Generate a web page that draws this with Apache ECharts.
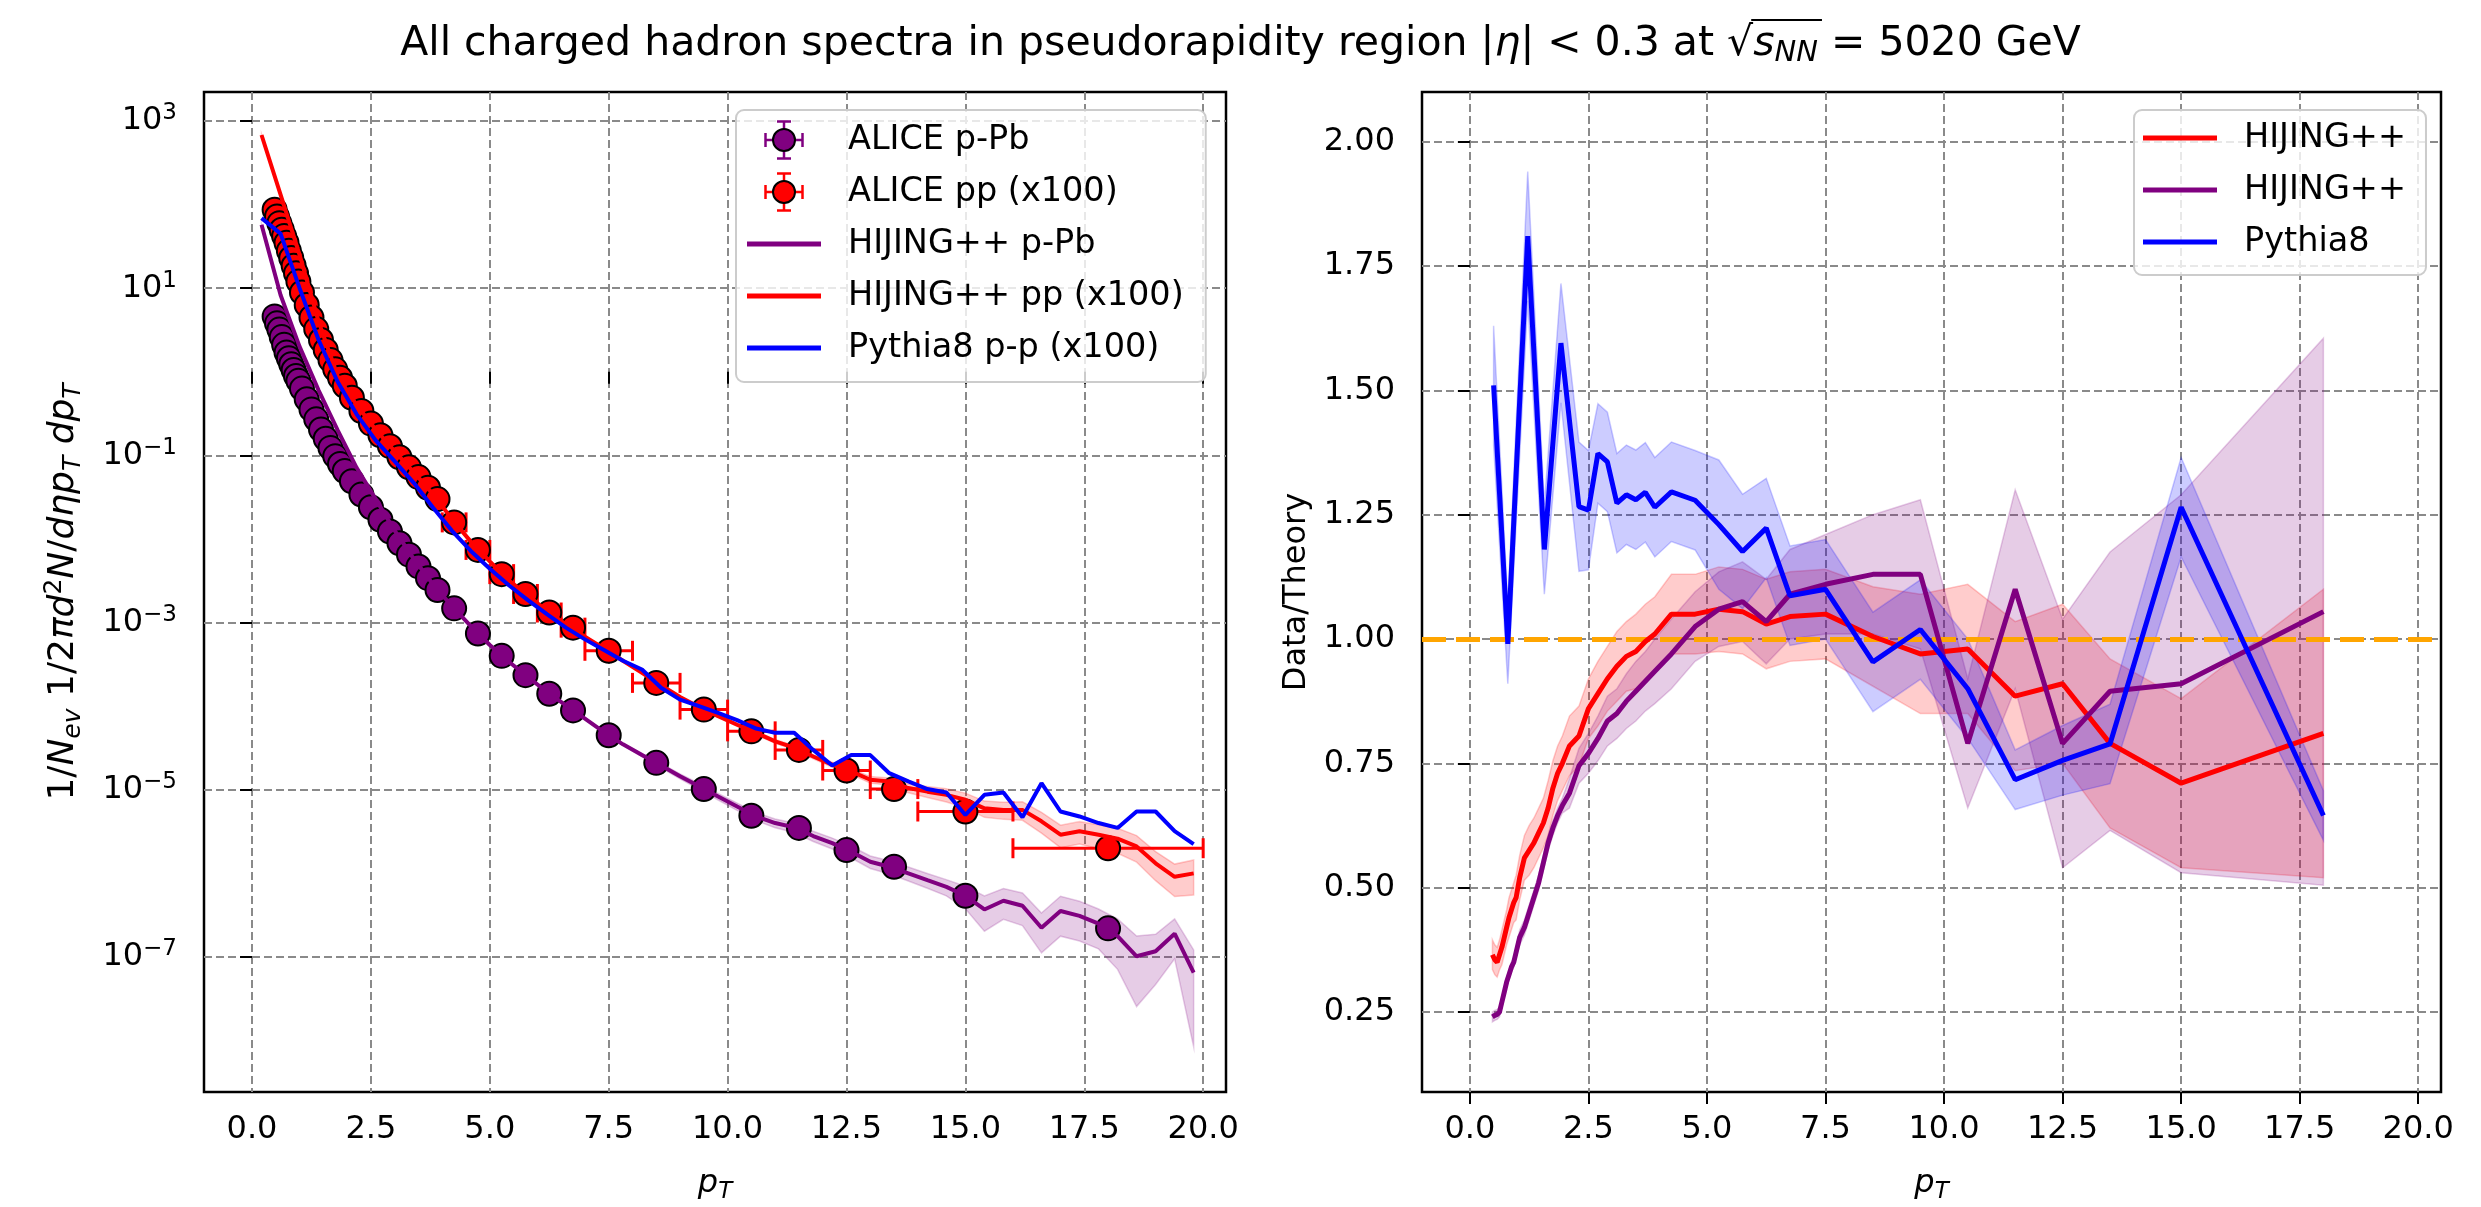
<!DOCTYPE html>
<html>
<head>
<meta charset="utf-8">
<script src="https://cdn.jsdelivr.net/npm/echarts@6/dist/echarts.min.js"></script>
<style>
  html, body { margin: 0; padding: 0; background: #fff; }
  #main { width: 2481px; height: 1207px; }
</style>
</head>
<body>
<div id="main"></div>
<script>
const FONT = 'DejaVu Sans';

// ALICE data points: bin centres and half widths (GeV)
const alicePt = [0.475, 0.525, 0.575, 0.625, 0.675, 0.725, 0.775, 0.825, 0.875, 0.925, 0.975,
  1.05, 1.15, 1.25, 1.35, 1.45, 1.55, 1.65, 1.75, 1.85, 1.95,
  2.1, 2.3, 2.5, 2.7, 2.9, 3.1, 3.3, 3.5, 3.7, 3.9,
  4.25, 4.75, 5.25, 5.75, 6.25, 6.75,
  7.5, 8.5, 9.5, 10.5, 11.5, 12.5, 13.5, 15, 18];
const alicePtErr = [0.025, 0.025, 0.025, 0.025, 0.025, 0.025, 0.025, 0.025, 0.025, 0.025, 0.025,
  0.05, 0.05, 0.05, 0.05, 0.05, 0.05, 0.05, 0.05, 0.05, 0.05,
  0.1, 0.1, 0.1, 0.1, 0.1, 0.1, 0.1, 0.1, 0.1, 0.1,
  0.25, 0.25, 0.25, 0.25, 0.25, 0.25,
  0.5, 0.5, 0.5, 0.5, 0.5, 0.5, 0.5, 1, 2];
const alicePPb = [4.6, 3.8, 3.2, 2.6, 2.1, 1.7, 1.45, 1.23, 1.05, 0.89, 0.78,
  0.63, 0.47, 0.355, 0.27, 0.204, 0.158, 0.123, 0.098, 0.079, 0.065,
  0.049, 0.034, 0.024, 0.017, 0.0123, 0.0089, 0.0065, 0.0047, 0.0034, 0.00245,
  1.48e-3, 7.4e-4, 4.0e-4, 2.35e-4, 1.41e-4, 8.9e-5,
  4.5e-5, 2.1e-5, 1.02e-5, 4.9e-6, 3.5e-6, 1.9e-6, 1.2e-6, 5.4e-7, 2.2e-7];
const alicePP = [87, 72, 60, 50, 42, 35, 28, 23, 18.6, 15.1, 12.0,
  8.9, 6.3, 4.47, 3.24, 2.40, 1.82, 1.38, 1.07, 0.85, 0.68,
  0.49, 0.34, 0.24, 0.174, 0.129, 0.095, 0.072, 0.055, 0.041, 0.030,
  0.0158, 0.0074, 0.0038, 0.0022, 0.00132, 8.7e-4,
  4.6e-4, 1.9e-4, 9.1e-5, 5.0e-5, 3.0e-5, 1.7e-5, 1.02e-5, 5.5e-6, 2.0e-6];
const alicePPRelErr = [0.04, 0.04, 0.04, 0.04, 0.04, 0.04, 0.04, 0.04, 0.04, 0.04, 0.04,
  0.04, 0.04, 0.04, 0.04, 0.04, 0.04, 0.04, 0.04, 0.04, 0.04,
  0.04, 0.04, 0.04, 0.04, 0.04, 0.04, 0.04, 0.04, 0.04, 0.04,
  0.05, 0.05, 0.05, 0.05, 0.05, 0.05,
  0.06, 0.06, 0.07, 0.07, 0.08, 0.09, 0.1, 0.12, 0.18];

// model curves (0.4 GeV bins)
const modelPt = [0.2, 0.6, 1.0, 1.4, 1.8, 2.2, 2.6, 3.0, 3.4, 3.8, 4.2, 4.6, 5.0, 5.4, 5.8, 6.2, 6.6,
  7.0, 7.4, 7.8, 8.2, 8.6, 9.0, 9.4, 9.8, 10.2, 10.6, 11.0, 11.4, 11.8, 12.2, 12.6, 13.0,
  13.4, 13.8, 14.2, 14.6, 15.0, 15.4, 15.8, 16.2, 16.6, 17.0, 17.4, 17.8, 18.2, 18.6, 19.0, 19.4, 19.8];
const hijingPPb = [57.5, 8.3, 2.0, 0.60, 0.20, 0.071, 0.030, 0.0126, 0.0058, 0.0029, 1.58e-3, 9.1e-4,
  5.4e-4, 3.4e-4, 2.24e-4, 1.48e-4, 1.02e-4, 7.1e-5, 4.9e-5, 3.5e-5, 2.6e-5, 1.95e-5, 1.45e-5,
  1.10e-5, 8.3e-6, 6.3e-6, 4.8e-6, 4.0e-6, 3.55e-6, 2.8e-6, 2.3e-6, 1.82e-6, 1.38e-6, 1.2e-6,
  1.0e-6, 8.3e-7, 6.9e-7, 5.4e-7, 3.7e-7, 4.7e-7, 4.1e-7, 2.24e-7, 3.55e-7, 3.1e-7, 2.5e-7,
  1.78e-7, 1.02e-7, 1.17e-7, 1.9e-7, 6.5e-8];
const hijingPPbRelErr = [0.02, 0.02, 0.02, 0.02, 0.02, 0.02, 0.02, 0.02, 0.02, 0.02, 0.02, 0.02,
  0.02, 0.02, 0.02, 0.02, 0.02, 0.02, 0.02, 0.02, 0.05, 0.06, 0.07, 0.08, 0.09, 0.1, 0.11, 0.12,
  0.13, 0.14, 0.15, 0.16, 0.17, 0.18, 0.19, 0.2, 0.22, 0.3, 0.45, 0.4, 0.42, 0.5, 0.5, 0.5, 0.5,
  0.6, 0.75, 0.6, 0.5, 0.87];
const hijingPP = [680, 132, 25.1, 3.98, 0.89, 0.40, 0.204, 0.112, 0.063, 0.0347, 0.0174, 0.0093,
  0.0054, 0.0032, 0.0021, 1.38e-3, 9.5e-4, 6.8e-4, 4.9e-4, 3.5e-4, 2.5e-4, 1.78e-4, 1.29e-4,
  9.8e-5, 7.6e-5, 6.0e-5, 4.8e-5, 3.8e-5, 3.2e-5, 2.5e-5, 2.0e-5, 1.66e-5, 1.32e-5, 1.26e-5,
  1.05e-5, 9.5e-6, 8.7e-6, 7.6e-6, 6.0e-6, 5.75e-6, 5.75e-6, 4.2e-6, 2.9e-6, 3.2e-6, 2.9e-6,
  2.6e-6, 2.1e-6, 1.32e-6, 9.1e-7, 1.0e-6];
const hijingPPRelErr = [0.02, 0.02, 0.02, 0.02, 0.02, 0.02, 0.02, 0.02, 0.02, 0.02, 0.02, 0.02,
  0.02, 0.02, 0.02, 0.02, 0.02, 0.02, 0.02, 0.02, 0.02, 0.02, 0.02, 0.02, 0.02, 0.04, 0.05, 0.05,
  0.06, 0.06, 0.07, 0.08, 0.09, 0.1, 0.12, 0.15, 0.18, 0.2, 0.22, 0.23, 0.25, 0.28, 0.3, 0.3,
  0.32, 0.33, 0.35, 0.38, 0.42, 0.45];
const pythiaPP = [69, 45, 10.0, 2.4, 0.76, 0.31, 0.151, 0.085, 0.047, 0.024, 0.0126, 0.0072,
  0.0044, 0.0028, 0.00186, 1.26e-3, 8.7e-4, 6.3e-4, 4.7e-4, 3.5e-4, 2.75e-4, 1.66e-4, 1.2e-4,
  1.0e-4, 8.3e-5, 6.8e-5, 5.4e-5, 4.8e-5, 4.8e-5, 3.0e-5, 1.95e-5, 2.6e-5, 2.6e-5, 1.58e-5,
  1.26e-5, 1.02e-5, 9.3e-6, 5.0e-6, 8.7e-6, 9.3e-6, 4.7e-6, 1.2e-5, 5.5e-6, 4.8e-6, 4.0e-6,
  3.5e-6, 5.5e-6, 5.5e-6, 3.2e-6, 2.24e-6];

// Data/Theory ratios
const ratioHijingPP = [0.365, 0.355, 0.35, 0.365, 0.38, 0.40, 0.42, 0.44, 0.455, 0.47, 0.48,
  0.52, 0.56, 0.575, 0.59, 0.61, 0.63, 0.66, 0.70, 0.73, 0.75,
  0.785, 0.805, 0.86, 0.89, 0.92, 0.945, 0.965, 0.975, 0.995, 1.01,
  1.05, 1.05, 1.06, 1.055, 1.03, 1.045,
  1.05, 1.005, 0.97, 0.98, 0.885, 0.91, 0.79, 0.71, 0.81];
const ratioHijingPPErr = [0.03, 0.03, 0.03, 0.03, 0.035, 0.035, 0.035, 0.04, 0.04, 0.04, 0.045,
  0.045, 0.045, 0.05, 0.05, 0.05, 0.05, 0.055, 0.055, 0.055, 0.055,
  0.06, 0.06, 0.06, 0.065, 0.065, 0.07, 0.07, 0.075, 0.075, 0.075,
  0.08, 0.08, 0.085, 0.085, 0.09, 0.09,
  0.09, 0.1, 0.12, 0.13, 0.15, 0.16, 0.17, 0.17, 0.29];
const ratioHijingPPb = [0.24, 0.243, 0.245, 0.25, 0.27, 0.29, 0.31, 0.325, 0.34, 0.35, 0.37,
  0.40, 0.42, 0.45, 0.48, 0.51, 0.55, 0.59, 0.62, 0.645, 0.665,
  0.69, 0.745, 0.77, 0.80, 0.835, 0.85, 0.875, 0.895, 0.915, 0.935,
  0.97, 1.025, 1.06, 1.075, 1.035, 1.09,
  1.11, 1.13, 1.13, 0.79, 1.10, 0.79, 0.895, 0.91, 1.055];
const ratioHijingPPbErr = [0.01, 0.01, 0.01, 0.01, 0.01, 0.01, 0.01, 0.01, 0.01, 0.01, 0.01,
  0.015, 0.015, 0.015, 0.015, 0.015, 0.015, 0.015, 0.015, 0.015, 0.015,
  0.03, 0.035, 0.04, 0.045, 0.05, 0.05, 0.055, 0.06, 0.06, 0.065,
  0.07, 0.07, 0.075, 0.08, 0.085, 0.09,
  0.1, 0.12, 0.15, 0.13, 0.2, 0.25, 0.28, 0.38, 0.55];
const ratioPythiaPt = [0.5, 0.8, 1.22, 1.57, 1.92, 2.3, 2.5, 2.7, 2.9, 3.1, 3.3, 3.5, 3.7, 3.9,
  4.25, 4.75, 5.25, 5.75, 6.25, 6.75, 7.5, 8.5, 9.5, 10.5, 11.5, 12.5, 13.5, 15, 18];
const ratioPythia = [1.51, 0.99, 1.81, 1.18, 1.595, 1.266, 1.259, 1.373, 1.356, 1.273, 1.29, 1.28,
  1.295, 1.265, 1.296, 1.279, 1.23, 1.176, 1.223, 1.087, 1.10, 0.954, 1.019, 0.90, 0.717, 0.756,
  0.789, 1.265, 0.645];
const ratioPythiaErr = [0.12, 0.08, 0.13, 0.09, 0.12, 0.13, 0.12, 0.1, 0.1, 0.1, 0.1, 0.1, 0.1,
  0.1, 0.1, 0.1, 0.13, 0.115, 0.1, 0.1, 0.1, 0.1, 0.1, 0.1, 0.06, 0.07, 0.08, 0.1, 0.05];

// tick positions
const xTicks = [0, 2.5, 5, 7.5, 10, 12.5, 15, 17.5, 20];
const specTicks = [-7, -5, -3, -1, 1, 3];   // decades on the spectrum axis
const ratioTicks = [0.25, 0.5, 0.75, 1.0, 1.25, 1.5, 1.75, 2.0];

const PURPLE = '#800080', RED = '#ff0000', BLUE = '#0000ff';

// helpers: the spectrum axis is drawn in log10 space
const lg = Math.log10;
const specPoints = (xs, vs) => xs.map((x, i) => [x, lg(vs[i])]);
const specBand = (xs, vs, rel) => xs.map((x, i) => [x, lg(vs[i] * (1 - rel[i])), lg(vs[i] * (1 + rel[i]))]);
const linPoints = (xs, vs) => xs.map((x, i) => [x, vs[i]]);
const linBand = (xs, vs, err) => xs.map((x, i) => [x, vs[i] - err[i], vs[i] + err[i]]);

function bandRender(color) {
  return function (params, api) {
    if (params.dataIndexInside !== 0) return null;
    const n = params.dataInsideLength;
    const upper = [], lower = [];
    for (let i = 0; i < n; i++) {
      upper.push(api.coord([api.value(0, i), api.value(2, i)]));
      lower.push(api.coord([api.value(0, i), api.value(1, i)]));
    }
    return {
      type: 'polygon',
      shape: { points: upper.concat(lower.reverse()) },
      style: { fill: color, stroke: color, lineWidth: 1.5 }
    };
  };
}

function errorBarRender(color) {
  return function (params, api) {
    const c = api.coord([api.value(0), api.value(1)]);
    const xl = api.coord([api.value(2), api.value(1)])[0];
    const xh = api.coord([api.value(3), api.value(1)])[0];
    const yl = api.coord([api.value(0), api.value(4)])[1];
    const yh = api.coord([api.value(0), api.value(5)])[1];
    const cap = 10;
    const st = { stroke: color, lineWidth: 3 };
    const ln = (x1, y1, x2, y2) => ({ type: 'line', shape: { x1, y1, x2, y2 }, style: st });
    return {
      type: 'group',
      children: [
        ln(xl, c[1], xh, c[1]), ln(xl, c[1] - cap, xl, c[1] + cap), ln(xh, c[1] - cap, xh, c[1] + cap),
        ln(c[0], yl, c[0], yh), ln(c[0] - cap, yl, c[0] + cap, yl), ln(c[0] - cap, yh, c[0] + cap, yh)
      ]
    };
  };
}

function errIcon(fill) {
  const svg = '<svg xmlns="http://www.w3.org/2000/svg" width="40" height="40" viewBox="0 0 40 40">' +
    '<g stroke="' + fill + '" stroke-width="2.5" fill="none">' +
    '<line x1="20" y1="1.5" x2="20" y2="38.5"/><line x1="13" y1="1.5" x2="27" y2="1.5"/><line x1="13" y1="38.5" x2="27" y2="38.5"/>' +
    '<line x1="1.5" y1="20" x2="38.5" y2="20"/><line x1="1.5" y1="13" x2="1.5" y2="27"/><line x1="38.5" y1="13" x2="38.5" y2="27"/>' +
    '</g><circle cx="20" cy="20" r="11" fill="' + fill + '" stroke="#000" stroke-width="2"/></svg>';
  return 'image://data:image/svg+xml;base64,' + btoa(svg);
}
const LINE_ICON = 'path://M0,0H74V5H0Z';

const mathRich = {
  n: { fontSize: 32, fontFamily: FONT, color: '#000', lineHeight: 40 },
  i: { fontSize: 32, fontFamily: FONT, color: '#000', fontStyle: 'italic', lineHeight: 40 },
  s: { fontSize: 23, fontFamily: FONT, color: '#000', fontStyle: 'italic', lineHeight: 22, verticalAlign: 'bottom' },
  e: { fontSize: 23, fontFamily: FONT, color: '#000', lineHeight: 22, verticalAlign: 'top' }
};
const yNameRich = {
  n: { fontSize: 36, fontFamily: FONT, color: '#000', lineHeight: 44 },
  i: { fontSize: 36, fontFamily: FONT, color: '#000', fontStyle: 'italic', lineHeight: 44 },
  s: { fontSize: 25, fontFamily: FONT, color: '#000', fontStyle: 'italic', lineHeight: 24, verticalAlign: 'bottom' },
  e: { fontSize: 25, fontFamily: FONT, color: '#000', lineHeight: 24, verticalAlign: 'top' }
};

// title pieces; the bar over s_NN is placed from measured text widths
const titleParts = [
  ['t', 'All charged hadron spectra in pseudorapidity region |'], ['i', 'η'], ['t', '| < 0.3 at √'],
  ['i', 's'], ['s', 'NN'], ['t', ' = 5020 GeV']
];
const titleFont = { t: [41, ''], i: [41, 'italic '], s: [29, 'italic '] };
const measureCtx = document.createElement('canvas').getContext('2d');
const partWidth = p => {
  const f = titleFont[p[0]];
  measureCtx.font = f[1] + f[0] + 'px "DejaVu Sans"';
  return measureCtx.measureText(p[1]).width;
};
const titleWidths = titleParts.map(partWidth);
const titleLeft = 2481 / 2 - titleWidths.reduce((a, b) => a + b, 0) / 2;
const barStart = titleLeft + titleWidths[0] + titleWidths[1] + titleWidths[2] - 2;
const barEnd = barStart + titleWidths[3] + titleWidths[4] + 6;

function xAxisFor(gridIndex) {
  return {
    type: 'value', gridIndex, min: -1.01, max: 20.48,
    name: '{i|p}{s|T}', nameLocation: 'middle', nameGap: 72, nameMoveOverlap: false,
    nameTextStyle: { rich: mathRich },
    axisLine: { show: false },
    axisTick: { show: true, length: 12, customValues: xTicks, lineStyle: { color: '#000', width: 2 } },
    axisLabel: { customValues: xTicks, margin: 22, fontSize: 32, fontFamily: FONT, color: '#000',
      formatter: v => v.toFixed(1) },
    splitLine: { show: true, lineStyle: { color: '#8a8a8a', width: 2, type: [8, 4] } }
  };
}

const gridBox = { show: true, borderColor: '#000', borderWidth: 2.5, backgroundColor: 'transparent',
  containLabel: false, outerBoundsMode: 'none' };

const legendCommon = {
  orient: 'vertical', itemWidth: 74, itemHeight: 40, itemGap: 12, selectedMode: false,
  backgroundColor: 'rgba(255,255,255,0.8)', borderColor: '#cccccc', borderWidth: 2, borderRadius: 8,
  itemStyle: { borderWidth: 0 },
  textStyle: { fontSize: 33.5, fontFamily: FONT, color: '#000', lineHeight: 40, padding: [0, 0, 0, 22] }
};

const chart = echarts.init(document.getElementById('main'));
const option = {
  animation: false,
  backgroundColor: '#fff',
  title: {
    text: titleParts.map(p => '{' + p[0] + '|' + p[1] + '}').join(''),
    left: 'center', top: 15,
    textStyle: {
      fontWeight: 'normal',
      rich: {
        t: { fontSize: 41, fontFamily: FONT, fontWeight: 'normal', color: '#000', lineHeight: 48 },
        i: { fontSize: 41, fontFamily: FONT, fontWeight: 'normal', color: '#000', fontStyle: 'italic', lineHeight: 48 },
        s: { fontSize: 29, fontFamily: FONT, fontWeight: 'normal', color: '#000', fontStyle: 'italic', lineHeight: 30, verticalAlign: 'bottom' }
      }
    }
  },
  graphic: [
    { type: 'line', silent: true, shape: { x1: barStart, y1: 20, x2: barEnd, y2: 20 },
      style: { stroke: '#000', lineWidth: 2 } }
  ],
  legend: [
    Object.assign({}, legendCommon, {
      left: 736, top: 110, padding: [10, 22, 14, 11],
      data: [
        { name: 'ALICE p-Pb', icon: errIcon(PURPLE) },
        { name: 'ALICE pp (x100)', icon: errIcon(RED) },
        { name: 'HIJING++ p-Pb', icon: LINE_ICON },
        { name: 'HIJING++ pp (x100)', icon: LINE_ICON },
        { name: 'Pythia8 p-p (x100)', icon: LINE_ICON }
      ]
    }),
    Object.assign({}, legendCommon, {
      left: 2134, top: 110, padding: [8, 20, 13, 9],
      formatter: name => name.trim(),
      data: [
        { name: 'HIJING++', icon: LINE_ICON },
        { name: 'HIJING++ ', icon: LINE_ICON },
        { name: 'Pythia8', icon: LINE_ICON }
      ]
    })
  ],
  grid: [
    Object.assign({ left: 204, top: 92, width: 1022, height: 1000 }, gridBox),
    Object.assign({ left: 1422, top: 92, width: 1019, height: 1000 }, gridBox)
  ],
  xAxis: [xAxisFor(0), xAxisFor(1)],
  yAxis: [
    {
      type: 'value', gridIndex: 0, min: -8.615, max: 3.347,
      name: '{n|1/}{i|N}{s|ev}{n| 1/2}{i|πd}{e|2}{i|N}{n|/}{i|dηp}{s|T}{n| }{i|dp}{s|T}',
      nameLocation: 'middle', nameRotate: 90, nameGap: 118, nameMoveOverlap: false,
      nameTextStyle: { rich: yNameRich },
      axisLine: { show: false },
      axisTick: { show: true, length: 12, customValues: specTicks, lineStyle: { color: '#000', width: 2 } },
      axisLabel: {
        customValues: specTicks, margin: 27,
        formatter: v => '{b|10}{e|' + (v < 0 ? '\u2212' + (-v) : v) + '}',
        rich: {
          b: { fontSize: 32, fontFamily: FONT, color: '#000', lineHeight: 38 },
          e: { fontSize: 23, fontFamily: FONT, color: '#000', lineHeight: 20, verticalAlign: 'top' }
        }
      },
      splitLine: { show: true, lineStyle: { color: '#8a8a8a', width: 2, type: [8, 4] } }
    },
    {
      type: 'value', gridIndex: 1, min: 0.089, max: 2.10,
      name: 'Data/Theory', nameLocation: 'middle', nameRotate: 90, nameGap: 109, nameMoveOverlap: false,
      nameTextStyle: { fontSize: 32, fontFamily: FONT, color: '#000' },
      axisLine: { show: false },
      axisTick: { show: true, length: 12, customValues: ratioTicks, lineStyle: { color: '#000', width: 2 } },
      axisLabel: { customValues: ratioTicks, margin: 27, fontSize: 32, fontFamily: FONT, color: '#000',
        formatter: v => v.toFixed(2) },
      splitLine: { show: true, lineStyle: { color: '#8a8a8a', width: 2, type: [8, 4] } }
    }
  ],
  series: [
    // ---- left panel: spectra ----
    { type: 'custom', name: 'HIJING++ p-Pb band', xAxisIndex: 0, yAxisIndex: 0, clip: true, silent: true, z: 2,
      renderItem: bandRender('rgba(128,0,128,0.2)'), encode: { x: 0, y: [1, 2] },
      data: specBand(modelPt, hijingPPb, hijingPPbRelErr) },
    { type: 'custom', name: 'HIJING++ pp band', xAxisIndex: 0, yAxisIndex: 0, clip: true, silent: true, z: 2,
      renderItem: bandRender('rgba(255,0,0,0.2)'), encode: { x: 0, y: [1, 2] },
      data: specBand(modelPt, hijingPP, hijingPPRelErr) },
    { type: 'custom', name: 'ALICE pp errors', xAxisIndex: 0, yAxisIndex: 0, clip: true, silent: true, z: 3,
      renderItem: errorBarRender(RED), encode: { x: [0, 2, 3], y: [1, 4, 5] },
      data: alicePt.map((x, i) => [x, lg(alicePP[i]), x - alicePtErr[i], x + alicePtErr[i],
        lg(alicePP[i] * (1 - alicePPRelErr[i])), lg(alicePP[i] * (1 + alicePPRelErr[i]))]) },
    { type: 'scatter', name: 'ALICE p-Pb', xAxisIndex: 0, yAxisIndex: 0, z: 4, symbol: 'circle', symbolSize: 24,
      itemStyle: { color: PURPLE, borderColor: '#000', borderWidth: 2, opacity: 1 },
      data: specPoints(alicePt, alicePPb) },
    { type: 'scatter', name: 'ALICE pp (x100)', xAxisIndex: 0, yAxisIndex: 0, z: 4, symbol: 'circle', symbolSize: 24,
      itemStyle: { color: RED, borderColor: '#000', borderWidth: 2, opacity: 1 },
      data: specPoints(alicePt, alicePP) },
    { type: 'line', name: 'HIJING++ p-Pb', xAxisIndex: 0, yAxisIndex: 0, z: 5, showSymbol: false, symbol: 'none',
      itemStyle: { color: PURPLE }, lineStyle: { color: PURPLE, width: 4 },
      data: specPoints(modelPt, hijingPPb) },
    { type: 'line', name: 'HIJING++ pp (x100)', xAxisIndex: 0, yAxisIndex: 0, z: 5, showSymbol: false, symbol: 'none',
      itemStyle: { color: RED }, lineStyle: { color: RED, width: 4 },
      data: specPoints(modelPt, hijingPP) },
    { type: 'line', name: 'Pythia8 p-p (x100)', xAxisIndex: 0, yAxisIndex: 0, z: 5, showSymbol: false, symbol: 'none',
      itemStyle: { color: BLUE }, lineStyle: { color: BLUE, width: 4 },
      data: specPoints(modelPt, pythiaPP) },

    // ---- right panel: Data/Theory ----
    { type: 'custom', name: 'ratio pp band', xAxisIndex: 1, yAxisIndex: 1, clip: true, silent: true, z: 2,
      renderItem: bandRender('rgba(255,0,0,0.2)'), encode: { x: 0, y: [1, 2] },
      data: linBand(alicePt, ratioHijingPP, ratioHijingPPErr) },
    { type: 'custom', name: 'ratio p-Pb band', xAxisIndex: 1, yAxisIndex: 1, clip: true, silent: true, z: 2,
      renderItem: bandRender('rgba(128,0,128,0.2)'), encode: { x: 0, y: [1, 2] },
      data: linBand(alicePt, ratioHijingPPb, ratioHijingPPbErr) },
    { type: 'custom', name: 'ratio pythia band', xAxisIndex: 1, yAxisIndex: 1, clip: true, silent: true, z: 2,
      renderItem: bandRender('rgba(0,0,255,0.2)'), encode: { x: 0, y: [1, 2] },
      data: linBand(ratioPythiaPt, ratioPythia, ratioPythiaErr) },
    { type: 'line', name: 'HIJING++', xAxisIndex: 1, yAxisIndex: 1, z: 5, showSymbol: false, symbol: 'none',
      itemStyle: { color: RED }, lineStyle: { color: RED, width: 5 },
      data: linPoints(alicePt, ratioHijingPP) },
    { type: 'line', name: 'HIJING++ ', xAxisIndex: 1, yAxisIndex: 1, z: 5, showSymbol: false, symbol: 'none',
      itemStyle: { color: PURPLE }, lineStyle: { color: PURPLE, width: 5 },
      data: linPoints(alicePt, ratioHijingPPb) },
    { type: 'line', name: 'Pythia8', xAxisIndex: 1, yAxisIndex: 1, z: 5, showSymbol: false, symbol: 'none',
      itemStyle: { color: BLUE }, lineStyle: { color: BLUE, width: 5 },
      data: linPoints(ratioPythiaPt, ratioPythia),
      markLine: {
        silent: true, symbol: 'none', label: { show: false },
        lineStyle: { color: '#ffa500', width: 5, type: [24, 10] },
        data: [{ yAxis: 1 }]
      } }
  ]
};
chart.setOption(option);
</script>
</body>
</html>
